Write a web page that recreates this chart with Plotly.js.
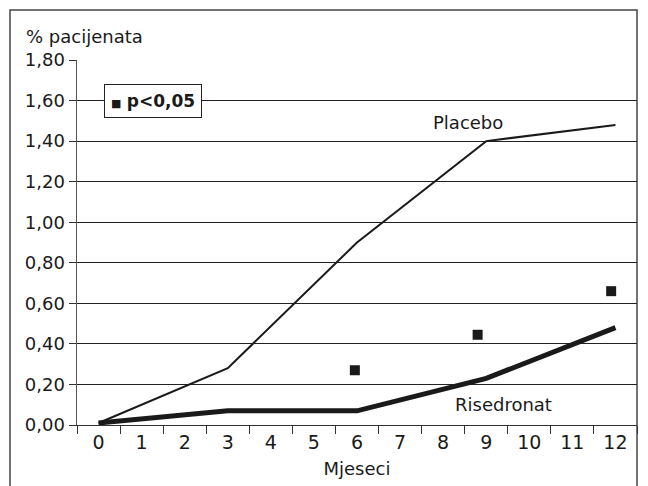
<!DOCTYPE html>
<html><head><meta charset="utf-8">
<script src="https://cdn.plot.ly/plotly-3.0.1.min.js"></script>
<style>html,body{margin:0;padding:0;background:#fff}#c{width:648px;height:486px}</style>
</head><body><div id="c"></div>
<script>
const months = [0, 3, 6, 9, 12];
const placebo = [0.01, 0.28, 0.90, 1.40, 1.48];
const risedronat = [0.01, 0.07, 0.07, 0.23, 0.48];
const sigX = [5.95, 8.8, 11.9];
const sigY = [0.27, 0.445, 0.66];
const xTicks = [0,1,2,3,4,5,6,7,8,9,10,11,12];
const xBounds = xTicks.concat([13]).map(v => v - 0.5);
const yTicks = [0,0.2,0.4,0.6,0.8,1.0,1.2,1.4,1.6,1.8];

const F = '"DejaVu Sans", sans-serif';
const data = [
  {x: months, y: placebo, mode: 'lines', line: {color: '#1a1a1a', width: 2}, name: 'Placebo', hoverinfo: 'skip'},
  {x: months, y: risedronat, mode: 'lines', line: {color: '#1a1a1a', width: 5}, name: 'Risedronat', hoverinfo: 'skip'},
  {x: sigX, y: sigY, mode: 'markers', marker: {symbol: 'square', size: 10, color: '#1a1a1a'}, name: 'p<0,05', hoverinfo: 'skip'}
];
const layout = {
  width: 648, height: 486,
  margin: {l: 77, r: 11, t: 60, b: 61},
  paper_bgcolor: '#fff', plot_bgcolor: '#fff',
  separators: ',.',
  showlegend: false,
  font: {family: F, color: '#1a1a1a'},
  xaxis: {
    range: [-0.5, 12.5], tickvals: xTicks, ticktext: xTicks.map(String),
    ticks: '', showgrid: false, zeroline: false,
    showline: true, linecolor: '#333', linewidth: 1,
    tickfont: {size: 19, family: F}, ticklabelstandoff: 0,
    minor: {tickvals: xBounds, ticks: 'outside', ticklen: 8, tickcolor: '#333', tickwidth: 1, showgrid: false},
    title: {text: 'Mjeseci', font: {size: 18, family: F}, standoff: 10}
  },
  yaxis: {
    range: [0, 1.8], tickvals: yTicks, tickformat: '.2f',
    showgrid: true, gridcolor: '#222', gridwidth: 1,
    zeroline: false, showline: true, linecolor: '#555', linewidth: 1.5,
    ticks: 'outside', ticklen: 7, tickcolor: '#333',
    tickfont: {size: 18, family: F}
  },
  shapes: [
    {type: 'rect', xref: 'paper', yref: 'paper', x0: -67/560, x1: 1.0, y0: -0.3, y1: 415/365,
     line: {color: '#444', width: 1.5}, fillcolor: 'rgba(0,0,0,0)', layer: 'below'}
  ],
  annotations: [
    {xref: 'paper', yref: 'paper', x: -53/560, y: 389/365, xanchor: 'left', yanchor: 'middle',
     text: '% pacijenata', showarrow: false, font: {size: 18, family: F}},
    {xref: 'x', yref: 'y', x: 8.57, y: 1.49, text: 'Placebo', showarrow: false, font: {size: 18, family: F}},
    {xref: 'x', yref: 'y', x: 9.4, y: 0.10, text: 'Risedronat', showarrow: false, font: {size: 18, family: F}},
    {xref: 'paper', yref: 'paper', x: 75.5/560, y: 324.5/365, xanchor: 'center', yanchor: 'middle',
     text: '<span style="font-size:11px">■</span> <b>p&lt;0,05</b>', showarrow: false,
     bgcolor: '#fff', bordercolor: '#222', borderwidth: 1, borderpad: 6, font: {size: 17, family: F}}
  ]
};
Plotly.newPlot('c', data, layout, {staticPlot: true});
</script></body></html>
